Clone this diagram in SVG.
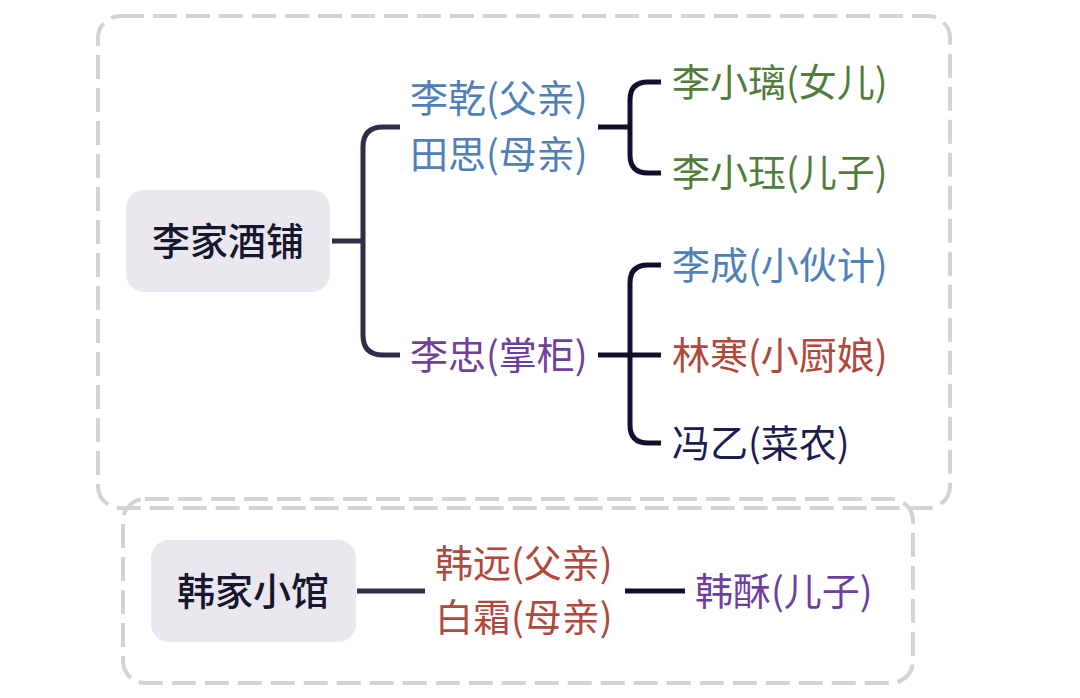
<svg xmlns="http://www.w3.org/2000/svg" width="1080" height="698" viewBox="0 0 1080 698">
<style>
text{font-family:"Noto Sans CJK SC","Noto Sans",sans-serif;font-size:38px;dominant-baseline:central}
.frame{fill:none;stroke:#d3d3d3;stroke-width:4;stroke-dasharray:24 9}
.root{fill:#eae8ee}
.rt{fill:#16162e;text-anchor:middle;font-weight:500}
.c1{fill:none;stroke:#2e2e48;stroke-width:5;stroke-linecap:butt}
.c2{fill:none;stroke:#10102c;stroke-width:5}
.blue{fill:#4f80b8}.green{fill:#4f7d3c}.purple{fill:#6f3f9e}.red{fill:#b0483c}.navy{fill:#1c1c52}
</style>
<rect class="frame" x="98" y="16" width="852" height="492" rx="22"/>
<rect class="frame" x="123" y="499" width="790" height="184" rx="22"/>
<g id="connectors">
<path class="c1" d="M332 241 H363 M400 127 H383 Q363 127 363 147 V335 Q363 355 383 355 H400"/>
<path class="c2" d="M598 127 H630 M661 82 H648 Q630 82 630 100 V155 Q630 173 648 173 H661"/>
<path class="c2" d="M598 355 H661 M661 265 H648 Q630 265 630 283 V425 Q630 443 648 443 H661"/>
<path class="c1" d="M357 591 H425"/>
<path class="c2" d="M625 591 H685"/>
</g>
<g id="n-lijia"><rect class="root" x="126" y="190" width="204" height="102" rx="18"/><text class="rt" x="228" y="238">李家酒铺</text></g>
<g id="n-parents"><text class="blue" x="410" y="95">李乾(父亲)</text><text class="blue" x="410" y="151">田思(母亲)</text></g>
<g id="n-daughter"><text class="green" x="672" y="79">李小璃(女儿)</text></g>
<g id="n-son"><text class="green" x="672" y="169">李小珏(儿子)</text></g>
<g id="n-lizhong"><text class="purple" x="410" y="352">李忠(掌柜)</text></g>
<g id="n-licheng"><text class="blue" x="672" y="262">李成(小伙计)</text></g>
<g id="n-linhan"><text class="red" x="672" y="352">林寒(小厨娘)</text></g>
<g id="n-fengyi"><text class="navy" x="672" y="440">冯乙(菜农)</text></g>
<g id="n-hanjia"><rect class="root" x="151" y="540" width="205" height="102" rx="18"/><text class="rt" x="253" y="588">韩家小馆</text></g>
<g id="n-hanparents"><text class="red" x="435" y="560">韩远(父亲)</text><text class="red" x="435" y="614">白霜(母亲)</text></g>
<g id="n-hansu"><text class="purple" x="695" y="588">韩酥(儿子)</text></g>
</svg>
